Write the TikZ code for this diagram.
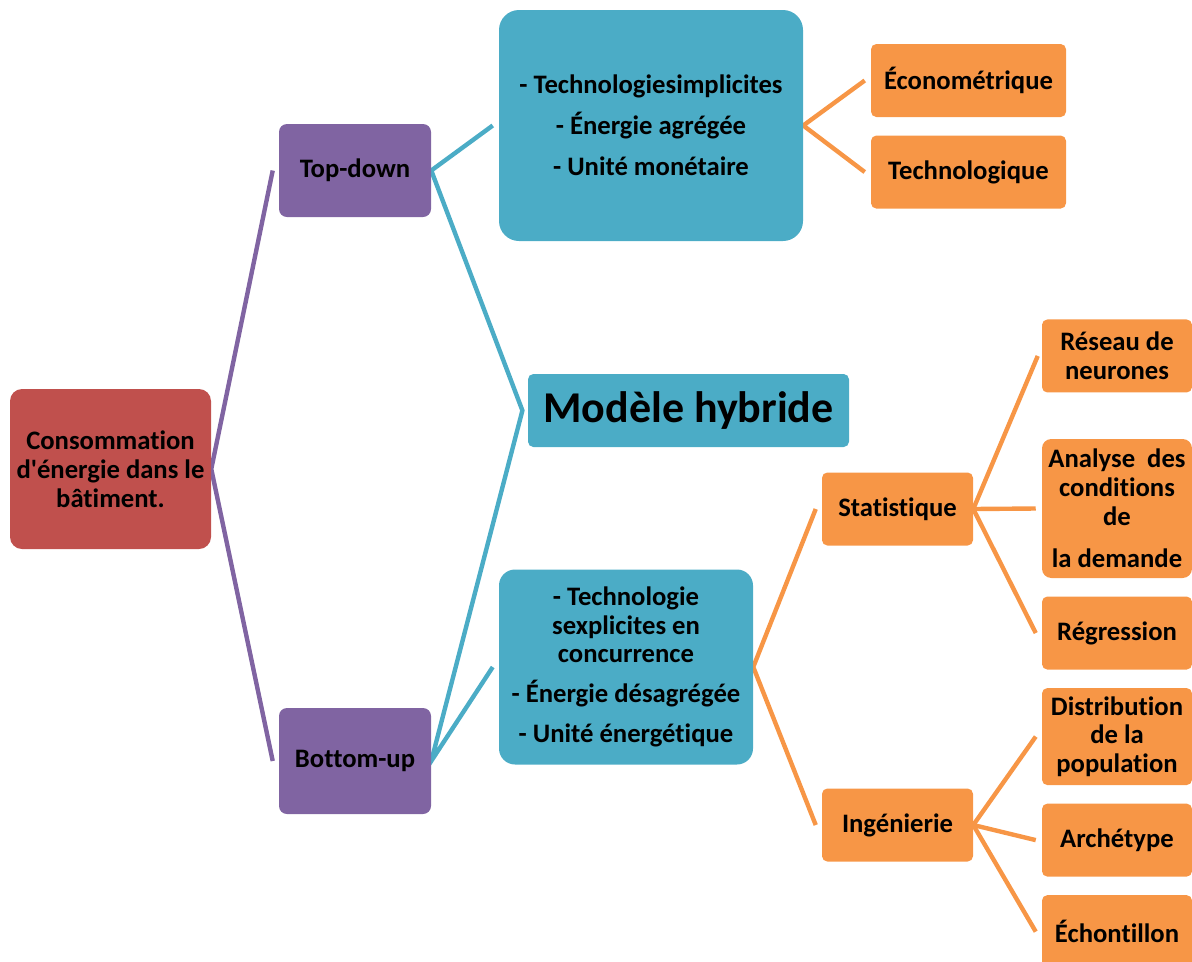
\documentclass[tikz,border=0pt]{standalone}
\usepackage{fontspec}
\setmainfont{Carlito}[Ligatures={TeXOff,NoCommon}]
\usepackage{tikz}
\usetikzlibrary{positioning, backgrounds}

\definecolor{rootred}{HTML}{C0504D}
\definecolor{levelpurple}{HTML}{8064A2}
\definecolor{levelteal}{HTML}{4BACC6}
\definecolor{levelorange}{HTML}{F79646}

\tikzset{
  box/.style={rounded corners=4pt, inner sep=0pt, align=center, text=black,
    font=\fontsize{20}{21.6}\selectfont\bfseries},
  rootbox/.style={box, fill=rootred, rounded corners=9pt,
    minimum width=150.75pt, minimum height=120pt},
  purplebox/.style={box, fill=levelpurple, rounded corners=6pt, minimum width=114pt},
  tealbox/.style={box, fill=levelteal},
  orangebox/.style={box, fill=levelorange, minimum height=54.75pt},
  leafbox/.style={orangebox, minimum width=112.5pt},
  link/.style={line width=3.3pt, line join=miter},
}

\begin{document}
\begin{tikzpicture}[x=0.75pt, y=-0.75pt, node distance=13.5pt]
  \useasboundingbox (0,0) rectangle (1192,961);

  \node[rootbox] (root) at (110.5,469) {Consommation\\d'énergie dans le\\bâtiment.};
  \node[purplebox, minimum height=69.75pt] (topdown) at (355,170.5) {Top-down};
  \node[purplebox, minimum height=79.5pt] (bottomup) at (355,761) {Bottom-up};

  \node[tealbox, rounded corners=15pt, minimum width=228pt, minimum height=173.25pt]
    (implicit) at (651,125.5)
    {- Technologiesimplicites\\[9.3pt]- Énergie agrégée\\[9.3pt]- Unité monétaire};
  \node[tealbox, minimum width=240.75pt, minimum height=54.75pt,
    font=\fontsize{33}{36}\selectfont\bfseries] (hybrid) at (688.5,410.5) {Modèle hybride};
  \node[tealbox, rounded corners=12pt, minimum width=190.5pt, minimum height=146.25pt]
    (explicit) at (626,667)
    {- Technologie\\sexplicites en\\concurrence\\[8.4pt]- Énergie désagrégée\\[8.4pt]- Unité énergétique};

  \node[orangebox, minimum width=146.25pt] (econo) at (968.5,80.5) {Économétrique};
  \node[orangebox, minimum width=146.25pt] (techno) [below=of econo] {Technologique};

  \node[orangebox, minimum width=113.25pt] (stat) at (897.5,509) {Statistique};
  \node[orangebox, minimum width=113.25pt] (ingen) at (897.5,825) {Ingénierie};

  \node[leafbox, rounded corners=7pt, minimum height=104.25pt] (analyse) at (1117,508.5)
    {Analyse~ des\\conditions\\de\\[10.5pt]la demande};
  \node[leafbox] (reseau) [above=34.5pt of analyse] {Réseau de\\neurones};
  \node[leafbox] (regression) [below=of analyse] {Régression};
  \node[leafbox, minimum height=72.75pt] (distrib) [below=of regression] {Distribution\\de la\\population};
  \node[leafbox] (archetype) [below=of distrib] {Archétype};
  \node[leafbox] (echant) [below=of archetype] {Échontillon};

  \begin{scope}[on background layer]
    \draw[link, levelpurple] ([xshift=-4.5pt]topdown.west) -- (root.east) -- ([xshift=-4.5pt]bottomup.west);

    \draw[link, levelteal] ([xshift=-4.5pt]implicit.west) -- (topdown.east) -- ([xshift=-4pt]hybrid.west)
      -- (bottomup.east) -- ([xshift=-4.5pt]explicit.west);

    \draw[link, levelorange] ([xshift=-4.5pt]econo.west) -- (implicit.east) -- ([xshift=-4.5pt]techno.west);
    \draw[link, levelorange] ([xshift=-4.5pt]stat.west) -- (explicit.east) -- ([xshift=-4.5pt]ingen.west);
    \draw[link, levelorange] ([xshift=-3pt]reseau.west) -- (stat.east) -- ([xshift=-4.5pt]regression.west);
    \draw[link, levelorange] (stat.east) -- ([xshift=-4.5pt]analyse.west);
    \draw[link, levelorange] ([xshift=-4.5pt]distrib.west) -- (ingen.east) -- ([xshift=-4.5pt]echant.west);
    \draw[link, levelorange] (ingen.east) -- ([xshift=-4.5pt]archetype.west);
  \end{scope}
\end{tikzpicture}
\end{document}
